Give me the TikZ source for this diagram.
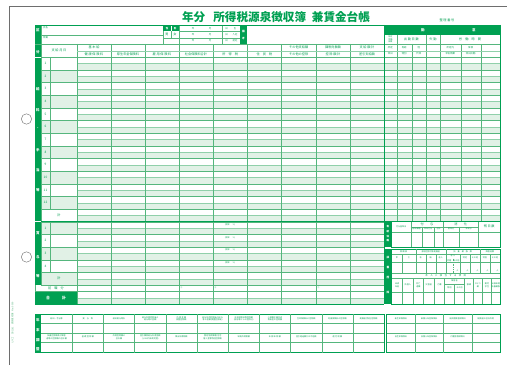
\documentclass[tikz,border=0pt]{standalone}
\usepackage{fontspec}
\setmainfont{Noto Sans CJK JP}
\definecolor{formgreen}{RGB}{0,160,82}
\definecolor{rulegreen}{RGB}{85,182,125}
\definecolor{palegreen}{RGB}{225,241,230}
\definecolor{paperedge}{RGB}{110,110,110}
\tikzset{
  rule/.style={draw=rulegreen,line width=0.45pt},
  subrule/.style={draw=rulegreen!65,line width=0.3pt},
  frame/.style={draw=formgreen,line width=0.75pt},
  shade/.style={fill=palegreen},
  bar/.style={fill=formgreen},
  lbl/.style={text=formgreen,font=\fontsize{4.5}{5}\selectfont,inner sep=0pt,align=center},
  note/.style={text=formgreen,font=\fontsize{3.4}{3.8}\selectfont,inner sep=0pt,align=center},
  tiny/.style={text=formgreen,font=\fontsize{2.9}{3.3}\selectfont,inner sep=0pt,align=center},
  barlbl/.style={text=white,font=\fontsize{5}{5}\selectfont\bfseries,inner sep=0pt},
}
\newcommand{\rowh}{12.667}
\begin{document}
\begin{tikzpicture}[x=0.05cm,y=-0.05cm]
\useasboundingbox (0,0) rectangle (507,365);
\fill[white] (0,0) rectangle (507,365);

\draw[paperedge,line width=0.7pt] (9,365) -- (9,6) -- (507,6);
\draw[paperedge,line width=0.6pt] (26.5,119) circle (0.26cm);
\draw[paperedge,line width=0.6pt] (26.5,257) circle (0.26cm);
\node[rotate=90,text=rulegreen,font=\fontsize{3.2}{3.5}\selectfont,inner sep=0pt] (code) at (12.5,323) {ヒサゴ\quad SB1181\quad 源泉徴収簿\quad No.\,0000};

\node[text=formgreen,font=\fontsize{16.5}{17}\selectfont\bfseries,inner sep=0pt] (title) at (276,17.5) {年分\hspace{0.7em}所得税源泉徴収簿\hspace{0.5em}兼賃金台帳};
\node[lbl] (seiri) at (447,20) {整 理 番 号};

\foreach \k in {0,...,17}
  \fill[shade] (77,{57+(\k+0.5)*\rowh}) rectangle (384,{57+(\k+1)*\rowh});
\foreach \k in {0,...,12}
  \fill[shade] (384,{57+(\k+0.5)*\rowh}) rectangle (500,{57+(\k+1)*\rowh});
\foreach \k in {1,3,...,17}
  \fill[shade] (41,{57+\k*\rowh}) rectangle (77,{57+(\k+1)*\rowh});
\fill[shade] (77,297.67) rectangle (384,304);

\fill[bar] (35,25) rectangle (41,56.5);
\fill[bar] (35,57.5) rectangle (41,221.2);
\fill[bar] (35,222.2) rectangle (41,285);
\fill[bar] (35,291.33) rectangle (77,304);
\fill[bar] (384,25) rectangle (500,35);

\foreach \k in {0,...,18}
  \draw[rule] (41,{57+\k*\rowh}) -- (384,{57+\k*\rowh});
\foreach \k in {0,...,12}
  \draw[rule] (384,{57+\k*\rowh}) -- (500,{57+\k*\rowh});
\foreach \k in {0,...,17}
  \draw[subrule] (77,{57+(\k+0.5)*\rowh}) -- (384,{57+(\k+0.5)*\rowh});
\foreach \k in {0,...,12}
  \draw[subrule] (384,{57+(\k+0.5)*\rowh}) -- (500,{57+(\k+0.5)*\rowh});
\draw[subrule] (77,297.67) -- (384,297.67);
\draw[rule] (35,291.33) -- (384,291.33);
\draw[rule] (35,285) -- (35,291.33);

\foreach \x in {77,111,145,179,213,247.5,281.5,316,350}
  \draw[rule] (\x,44) -- (\x,304);
\draw[rule] (50,57) -- (50,{57+12*\rowh});
\draw[rule] (50,{57+13*\rowh}) -- (50,{57+17*\rowh});
\draw[rule] (41,25) -- (41,285);
\foreach \x in {396.7,426,440}
  \draw[rule] (\x,35) -- (\x,{57+13*\rowh});
\foreach \x in {411.7,460.7,480.7}
  \draw[rule] (\x,44) -- (\x,{57+13*\rowh});
\draw[rule] (384,44) -- (500,44);
\draw[subrule] (384,50.7) -- (500,50.7);
\draw[subrule] (77,50.7) -- (384,50.7);

\draw[rule] (41,35) -- (163,35);
\draw[rule] (35,44) -- (384,44);
\draw[rule] (163,25) -- (163,44);
\fill[bar] (163,25) rectangle (179,31.3);
\draw[white,line width=0.4pt] (171,25) -- (171,31.3);
\draw[rule] (171,31.3) -- (171,37.7);
\draw[rule] (179,31.3) -- (240,31.3);
\draw[rule] (163,37.7) -- (240,37.7);
\draw[rule] (179,25) -- (179,44);
\draw[rule] (222.5,25) -- (222.5,44);
\fill[bar] (240,25) rectangle (247,44);

\draw[frame] (35,25) -- (384,25);
\draw[frame] (35,304) -- (384,304);
\draw[frame] (384,25) -- (384,304);
\draw[frame] (500,25) -- (500,{57+13*\rowh});
\draw[frame] (41,{57+13*\rowh}) -- (500,{57+13*\rowh});

\node[barlbl] (kubun1) at (38,30) {区};
\node[barlbl] (kubun2) at (38,52) {分};
\foreach \c/\y [count=\i] in {給/89,料/110,・/129,手/150,当/170,等/190}
  \node[barlbl] (kyuryo\i) at (38,\y) {\c};
\foreach \c/\y [count=\i] in {賞/232.7,与/256.7,等/275.7}
  \node[barlbl] (shoyo\i) at (38,\y) {\c};
\node[barlbl,font=\fontsize{5.5}{5.5}\selectfont\bfseries] (gokei1) at (48,297.7) {合};
\node[barlbl,font=\fontsize{5.5}{5.5}\selectfont\bfseries] (gokei2) at (64,297.7) {計};
\node[lbl] (zenshoku) at (56,288.2) {前　職　分};

\node[note] (shimei) at (45.5,28) {氏名};
\node[note] (shozoku) at (45.5,37.7) {所属};
\node[barlbl,font=\fontsize{3.5}{3.5}\selectfont\bfseries] (seibetsu1) at (167,28.2) {性};
\node[barlbl,font=\fontsize{3.5}{3.5}\selectfont\bfseries] (seibetsu2) at (175,28.2) {別};
\node[lbl] (otoko) at (167,34.5) {男};
\node[lbl] (onna) at (175,34.5) {女};
\foreach \y/\t [count=\i] in {28.2/生,34.5/入社,40.9/退社} {
  \node[note] (nen\i) at (193,\y) {年};
  \node[note] (tsuki\i) at (210,\y) {月};
  \node[note] (hi\i) at (226.5,\y) {日};
  \node[note] (ev\i) at (235,\y) {\t};
}
\node[barlbl,font=\fontsize{3.8}{3.8}\selectfont\bfseries] (biko1) at (243.5,31) {備};
\node[barlbl,font=\fontsize{3.8}{3.8}\selectfont\bfseries] (biko2) at (243.5,38.5) {考};

\node[lbl] (hdrDate) at (59,50.7) {支 給 月 日};
\node[lbl] (hdrBase) at (94,47.4) {基 本 給};
\foreach \x/\t [count=\i] in {94/{健 康 保 険 料},128/{厚生年金保険料},162/{雇 用 保 険 料},196/{社会保険料合計},230.2/{所　得　税},264.5/{住　民　税},298.7/{その他の控除},333/{控 除 額 計},367/{差引支給額}}
  \node[lbl] (hdrLow\i) at (\x,54) {\t};
\foreach \x/\t [count=\i] in {298.7/{その他支給額},333/{課税対象額},367/{支 給 額 計}}
  \node[lbl] (hdrUp\i) at (\x,47.4) {\t};

\node[barlbl] (kintai1) at (423,30.2) {勤};
\node[barlbl] (kintai2) at (474,30.2) {怠};
\node[tiny] (kHead1) at (390.3,39.5) {所定\\労働\\日数};
\node[lbl] (kHead2) at (411.3,39.5) {出 勤 日 数};
\node[lbl] (kHead3) at (433,39.5) {欠 勤};
\node[lbl] (kHead4) at (470,39.5) {労　働　時　間};
\foreach \x/\t/\u [count=\i] in {390.3/所定/休日,404.2/有給/特別,418.8/他/代休,450.3/所定内/早出残業,470.7/深 夜/休日出勤}{
  \node[note] (kMid\i) at (\x,47.4) {\t};
  \node[note] (kLow\i) at (\x,54) {\u};
}

\foreach \n in {1,...,12}
  \node[lbl] (month\n) at (45.5,{57+(\n-0.5)*\rowh}) {\n};
\node[lbl] (keiA) at (59,{57+12.5*\rowh}) {計};
\foreach \n in {1,...,4}
  \node[lbl] (bonus\n) at (45.5,{57+(12.5+\n)*\rowh}) {\n};
\node[lbl] (keiB) at (59,{57+17.5*\rowh}) {計};
\foreach \n in {1,...,4}
  \node[tiny] (zeiritsu\n) at (230,{57+(12+\n)*\rowh+3.2}) {(税率\hspace{1.4em}\%)};
\node[tiny] (markA) at (181.5,288.2) {②};
\node[tiny] (markB) at (215.5,288.2) {③};
\node[tiny] (markC) at (318.5,288.2) {①};

\fill[bar] (384,222.3) rectangle (391.7,247.3);
\draw[frame] (391.7,221.67) rectangle (500,247.3);
\foreach \c/\y [count=\i] in {有/227,給/231.7,休/236.3,暇/241}
  \node[barlbl,font=\fontsize{3.6}{3.6}\selectfont\bfseries] (yukyu\i) at (388,\y) {\c};
\foreach \x in {410.7,443.3,478.3}
  \draw[rule] (\x,221.67) -- (\x,247.3);
\foreach \x in {422.3,434,459}
  \draw[rule] (\x,226.7) -- (\x,247.3);
\draw[rule] (410.7,226.7) -- (478.3,226.7);
\draw[rule] (391.7,231.7) -- (500,231.7);
\node[tiny] (yHead1) at (401.2,226.7) {付与基準日};
\node[lbl] (yHead2) at (427,224.2) {付　　与};
\node[lbl] (yHead3) at (460.8,224.2) {消　　化};
\node[lbl] (yHead4) at (489.2,226.7) {残 日 数};
\foreach \x/\t [count=\i] in {416.5/前年繰越,428.2/本年付与,438.7/合計,451.2/前年分,468.7/本年分}
  \node[tiny] (ySub\i) at (\x,229.2) {\t};

\fill[bar] (384,249.3) rectangle (391.7,304);
\draw[frame] (391.7,249.3) rectangle (500,304);
\foreach \c/\y [count=\i] in {扶/257,養/267,控/277,除/292}
  \node[barlbl,font=\fontsize{3.8}{3.8}\selectfont\bfseries] (fuyo\i) at (388,\y) {\c};
\foreach \x in {415.7,445.7,480}
  \draw[rule] (\x,249.3) -- (\x,273.3);
\foreach \x in {402.3,425.7,435.7,460,470,490}
  \draw[rule] (\x,254) -- (\x,273.3);
\draw[rule,dotted] (452.8,258.5) -- (452.8,273.3);
\foreach \y in {254,262.5,273.3,278.3,292}
  \draw[rule] (391.7,\y) -- (500,\y);
\node[tiny] (fHead1) at (403.7,251.7) {税 額 表};
\node[tiny] (fHead2) at (430.7,251.7) {源泉控除対象配偶者};
\node[tiny] (fHead3) at (462.8,251.7) {扶　養　親　族　数};
\node[tiny] (fHead4) at (490,251.7) {障害者数};
\foreach \x/\t [count=\i] in {397/甲,409/乙,420.7/有,430.7/無,440.7/老人,465/特定,475/その他,485/特別,495/その他}
  \node[tiny] (fKind\i) at (\x,258.2) {\t};
\node[tiny] (fOld) at (452.8,256.2) {老 人};
\node[tiny] (fOldA) at (449.3,260.5) {同居};
\node[tiny] (fOldB) at (456.4,260.5) {その他};
\foreach \x [count=\i] in {457.5,467.5,477.5,487.5,497.5}
  \node[tiny] (fNin\i) at (\x,270.8) {人};
\node[note] (fSelf) at (445.8,275.8) {本　人　に　該　当　す　る　項　目};
\foreach \x in {402.5,413,423.5,434,444.5,464.5,473.5,482.5,491.5}
  \draw[rule] (\x,278.3) -- (\x,304);
\draw[rule] (444.5,284) -- (464.5,284);
\draw[rule] (454.5,284) -- (454.5,304);
\foreach \x/\t [count=\i] in {397.1/{未成\\年者},407.8/{外国人},418.3/{死亡\\退職},428.8/{災害者},439.3/{乙欄},469/{寡婦},478/{ひとり\\親},487/{勤労\\学生},495.8/{16歳未満\\扶養親族}}
  \node[tiny] (fSelf\i) at (\x,285.2) {\t};
\node[tiny] (fShogai) at (454.5,281.2) {障害者};
\node[tiny] (fShogaiA) at (449.5,288) {特別};
\node[tiny] (fShogaiB) at (459.5,288) {その他};

\fill[bar] (35,314.3) rectangle (41,352.7);
\draw[frame] (35,314.3) rectangle (384.2,352.7);
\foreach \i in {1,...,10}
  \draw[rule] ({41+\i*31.2},314.3) -- ({41+\i*31.2},352.7);
\foreach \y in {323.3,332.7,341.7}
  \draw[rule] (41,\y) -- (384.2,\y);
\foreach \c/\y [count=\i] in {年/320,末/330,調/340,整/349.3}
  \node[barlbl] (nencho\i) at (38,\y) {\c};
\foreach \t [count=\i] in {{給料・手当等},{賞　与　等},{給料賞与等計},{給与所得控除後の\\給与等の金額},{所 得 金 額\\調整控除額},{給与所得控除後の給与\\等の金額(調整控除後)},{社会保険料等控除額\\(給与等からの控除分)},{小規模企業共済\\等掛金の控除額},{生命保険料の控除額},{地震保険料の控除額},{配偶者(特別)控除額}}
  \node[tiny] (ncA\i) at ({41+(\i-0.5)*31.2},318.8) {\t};
\foreach \t [count=\i] in {{扶養控除額及び障害\\者等の控除額の合計額},{基 礎 控 除 額},{所得控除額の\\合計額},{差引課税給与所得金額\\(1{,}000円未満切捨)},{算出所得税額},{(特定増改築等)住宅\\借入金等特別控除額},{年調所得税額},{年 調 年 税 額},{差引超過額又は不足額},{還 付 税 額}}
  \node[tiny] (ncB\i) at ({41+(\i-0.5)*31.2},337.2) {\t};

\draw[frame] (386.7,314.3) rectangle (500,352.7);
\foreach \i in {1,2,3}
  \draw[rule] ({386.7+\i*28.33},314.3) -- ({386.7+\i*28.33},352.7);
\foreach \y in {323.3,332.7,341.7}
  \draw[rule] (386.7,\y) -- (500,\y);
\foreach \t [count=\i] in {新生命保険料,新個人年金保険料,旧長期損害保険料,配偶者の合計所得}
  \node[tiny] (hoA\i) at ({386.7+(\i-0.5)*28.33},318.8) {\t};
\foreach \t [count=\i] in {旧生命保険料,旧個人年金保険料,介護医療保険料}
  \node[tiny] (hoB\i) at ({386.7+(\i-0.5)*28.33},337.2) {\t};

\end{tikzpicture}
\end{document}
